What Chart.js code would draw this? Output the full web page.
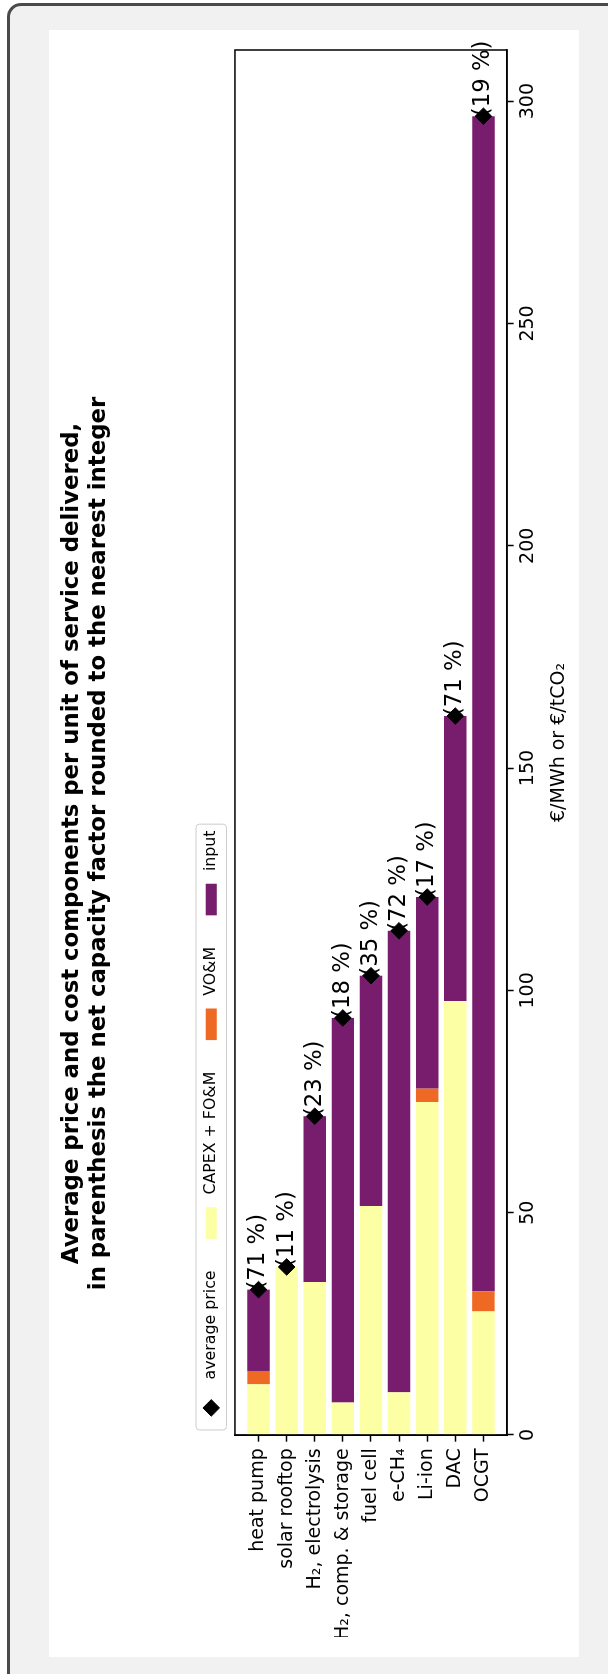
<!DOCTYPE html>
<html>
<head>
<meta charset="utf-8">
<script src="https://cdn.jsdelivr.net/npm/chart.js@4.4.1/dist/chart.umd.min.js"></script>
<style>
  html, body { margin: 0; padding: 0; width: 608px; height: 1674px; overflow: hidden; background: #ffffff; }
  #card { position: absolute; left: 7px; top: 3px; width: 760px; height: 1800px; box-sizing: border-box;
          border: 3px solid #4a4a4a; border-radius: 14px; background: #f1f1f1; }
  #fig { position: absolute; left: 49px; top: 1657px; width: 1627px; height: 530px; background: #ffffff;
         transform-origin: 0 0; transform: rotate(-90deg); }
  #fig canvas { display: block; }
</style>
</head>
<body>
<div id="card"></div>
<div id="fig"><canvas id="c" width="1627" height="530"></canvas></div>
<script>
// ---------- data ----------
const categories = ['heat pump', 'solar rooftop', 'H₂, electrolysis', 'H₂, comp. & storage',
                    'fuel cell', 'e-CH₄', 'Li-ion', 'DAC', 'OCGT'];
const capexFom = [11.4, 37.8, 34.4, 7.3, 51.5, 9.6, 74.9, 97.6, 27.8];
const vom = [3.0, 0, 0, 0, 0, 0, 3.0, 0, 4.5];
const inputCost = [18.3, 0, 37.3, 86.5, 51.8, 103.8, 43.1, 64.1, 264.3];
const averagePrice = [32.7, 37.8, 71.7, 93.8, 103.3, 113.4, 121.0, 161.7, 296.6];
const capacityFactor = [71, 11, 23, 18, 35, 72, 17, 71, 19];
const valueTicks = [0, 50, 100, 150, 200, 250, 300];
const seriesNames = ['CAPEX + FO&M', 'VO&M', 'input'];
const seriesColors = ['#fcffa4', '#ee6a24', '#781c6d'];
const priceName = 'average price';
const titleLines = ['Average price and cost components per unit of service delivered,',
                    'in parenthesis the net capacity factor rounded to the nearest integer'];
const axisTitle = '€/MWh or €/tCO₂';

// ---------- chart ----------
const FONT = "'DejaVu Sans', sans-serif";
Chart.defaults.font.family = FONT;
Chart.defaults.color = '#000';

const seriesValues = [capexFom, vom, inputCost];
const valueMax = 311.5;
const catMin = -0.84, catMax = categories.length - 1 + 0.84;

const barDatasets = seriesNames.map((name, s) => ({
  type: 'bar',
  label: name,
  data: seriesValues[s].map((v, i) => ({ x: v, y: i })),
  backgroundColor: seriesColors[s],
  borderWidth: 0,
  stack: 'cost',
  categoryPercentage: 1,
  barPercentage: 0.8,
  order: 1
}));

const priceDataset = {
  type: 'scatter',
  label: priceName,
  data: averagePrice.map((v, i) => ({ x: v, y: i })),
  pointStyle: 'rectRot',
  pointRadius: 8.3,
  pointHoverRadius: 8.3,
  backgroundColor: '#000',
  borderColor: '#000',
  borderWidth: 1,
  stack: 'avg',
  order: 0
};

const decor = {
  id: 'decor',
  afterDatasetsDraw(chart) {
    const { ctx, chartArea: a, scales } = chart;
    const x = scales.x, y = scales.y;
    ctx.save();
    // frame
    ctx.lineWidth = 1.5;
    ctx.strokeStyle = '#000';
    ctx.strokeRect(a.left, a.top, a.right - a.left, a.bottom - a.top);
    // capacity factor labels
    ctx.fillStyle = '#000';
    ctx.font = '22.8px ' + FONT;
    ctx.textAlign = 'left';
    ctx.textBaseline = 'middle';
    averagePrice.forEach((v, i) => {
      ctx.fillText('(' + capacityFactor[i] + ' %)', x.getPixelForValue(v), y.getPixelForValue(i));
    });
    ctx.restore();
  },
  afterDraw(chart) {
    const { ctx, chartArea: a } = chart;
    const F = 15.8;
    ctx.save();
    ctx.font = F + 'px ' + FONT;
    const items = [{ label: priceName, kind: 'marker', color: '#000' }]
      .concat(barDatasets.map(d => ({ label: d.label, kind: 'patch', color: d.backgroundColor })));
    const boxLeft = a.left + 5, boxTop = 147, boxH = 30.5;
    const cy = boxTop + boxH / 2;
    let xx = boxLeft + 0.4 * F;
    const layout = items.map(it => {
      const start = xx;
      const tw = ctx.measureText(it.label).width;
      xx += 2 * F + 0.8 * F + tw + 2 * F;
      return { it, start, tw };
    });
    const boxRight = xx - 2 * F + 0.4 * F;
    // frame
    const r = 3.5;
    ctx.beginPath();
    ctx.moveTo(boxLeft + r, boxTop);
    ctx.lineTo(boxRight - r, boxTop);
    ctx.arcTo(boxRight, boxTop, boxRight, boxTop + r, r);
    ctx.lineTo(boxRight, boxTop + boxH - r);
    ctx.arcTo(boxRight, boxTop + boxH, boxRight - r, boxTop + boxH, r);
    ctx.lineTo(boxLeft + r, boxTop + boxH);
    ctx.arcTo(boxLeft, boxTop + boxH, boxLeft, boxTop + boxH - r, r);
    ctx.lineTo(boxLeft, boxTop + r);
    ctx.arcTo(boxLeft, boxTop, boxLeft + r, boxTop, r);
    ctx.closePath();
    ctx.fillStyle = 'rgba(255,255,255,0.8)';
    ctx.fill();
    ctx.lineWidth = 1;
    ctx.strokeStyle = '#cccccc';
    ctx.stroke();
    // items
    layout.forEach(({ it, start }) => {
      if (it.kind === 'marker') {
        const mx = start + F, rr = 8.3;
        ctx.beginPath();
        ctx.moveTo(mx - rr, cy); ctx.lineTo(mx, cy - rr); ctx.lineTo(mx + rr, cy); ctx.lineTo(mx, cy + rr);
        ctx.closePath();
        ctx.fillStyle = '#000'; ctx.fill();
        ctx.lineWidth = 1; ctx.strokeStyle = '#000'; ctx.stroke();
      } else {
        ctx.fillStyle = it.color;
        ctx.fillRect(start, cy - 0.35 * F, 2 * F, 0.7 * F);
      }
      ctx.fillStyle = '#000';
      ctx.textAlign = 'left';
      ctx.textBaseline = 'middle';
      ctx.fillText(it.label, start + 2.8 * F, cy);
    });
    ctx.restore();
  }
};

new Chart(document.getElementById('c'), {
  type: 'bar',
  data: { datasets: [priceDataset].concat(barDatasets) },
  options: {
    responsive: false,
    maintainAspectRatio: false,
    devicePixelRatio: 1,
    animation: false,
    events: [],
    indexAxis: 'y',
    layout: { padding: { left: 20, right: 20, top: 0, bottom: 0 } },
    plugins: {
      legend: { display: false },
      tooltip: { enabled: false },
      title: {
        display: true,
        text: titleLines,
        color: '#000',
        font: { size: 22.8, weight: 'bold', lineHeight: 1.17 },
        padding: { top: 10, bottom: 122.6 }
      }
    },
    scales: {
      x: {
        type: 'linear',
        position: 'bottom',
        min: 0,
        max: valueMax,
        stacked: true,
        afterBuildTicks: s => { s.ticks = valueTicks.map(v => ({ value: v })); },
        afterFit: s => { s.height = 72; },
        grid: { drawOnChartArea: false, drawTicks: true, tickLength: 6.65, tickWidth: 1.5, tickColor: '#000' },
        border: { display: true, color: '#000', width: 1.5 },
        ticks: { font: { size: 19 }, color: '#000', padding: 3, maxRotation: 0, autoSkip: false },
        title: { display: true, text: axisTitle, color: '#000', font: { size: 19 }, padding: { top: 0, bottom: 9 } }
      },
      y: {
        type: 'linear',
        position: 'left',
        min: catMin,
        max: catMax,
        reverse: true,
        stacked: true,
        offset: false,
        afterBuildTicks: s => { s.ticks = categories.map((_, i) => ({ value: i })); },
        afterFit: s => { s.width = 202; },
        grid: { offset: false, drawOnChartArea: false, drawTicks: true, tickLength: 6.65, tickWidth: 1.5, tickColor: '#000' },
        border: { display: true, color: '#000', width: 1.5 },
        ticks: { font: { size: 19 }, color: '#000', padding: 6.65, autoSkip: false,
                 callback: v => categories[v] }
      }
    }
  },
  plugins: [decor]
});
</script>
</body>
</html>
